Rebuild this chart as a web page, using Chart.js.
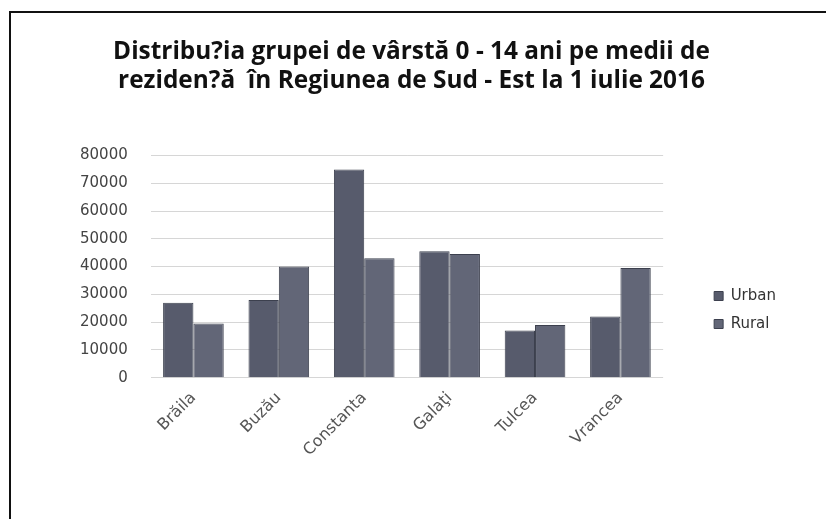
<!DOCTYPE html>
<html>
<head>
<meta charset="utf-8">
<script src="https://cdn.jsdelivr.net/npm/chart.js@4.4.1/dist/chart.umd.min.js"></script>
<style>
  html, body { margin: 0; padding: 0; background: #fff; }
  #frame {
    position: absolute; left: 9px; top: 11px; width: 817px; height: 508px;
    border-left: 2px solid #111; border-top: 2px solid #111;
  }
  #chart { position: absolute; left: 0; top: 0; }
</style>
</head>
<body>
<div id="frame"><canvas id="chart" width="815" height="506"></canvas></div>
<script>
// Distribution of 0-14 age group by residence, South-East region, 1 July 2016
const counties = ['Brăila', 'Buzău', 'Constanta', 'Galaţi', 'Tulcea', 'Vrancea'];
const urbanValues = [27000, 28000, 75000, 45500, 17000, 22000];
const ruralValues = [19500, 40000, 43000, 44500, 19000, 39500];
const yTicks = [0, 10000, 20000, 30000, 40000, 50000, 60000, 70000, 80000];

const LEGEND_GAP = 38;
const LEGEND_DROP = 69;

// leave blank room between plot and legend, and push legend down beside the bars
const legendGap = {
  id: 'legendGap',
  beforeInit(chart) {
    const legend = chart.legend;
    if (!legend) return;
    const fit = legend.fit;
    legend.fit = function () {
      fit.call(this);
      this.width += LEGEND_GAP;
    };
    const draw = legend.draw;
    legend.draw = function () {
      this.left += LEGEND_GAP;
      this.top += LEGEND_DROP;
      this.bottom += LEGEND_DROP;
      draw.call(this);
      this.left -= LEGEND_GAP;
      this.top -= LEGEND_DROP;
      this.bottom -= LEGEND_DROP;
    };
  }
};

const ctx = document.getElementById('chart');

new Chart(ctx, {
  type: 'bar',
  data: {
    labels: counties,
    datasets: [
      {
        label: 'Urban',
        data: urbanValues,
        backgroundColor: '#575b6c',
        borderColor: '#3c404e',
        borderWidth: 1,
        categoryPercentage: 0.71,
        barPercentage: 1.0
      },
      {
        label: 'Rural',
        data: ruralValues,
        backgroundColor: '#626677',
        borderColor: '#3c404e',
        borderWidth: 1,
        categoryPercentage: 0.71,
        barPercentage: 1.0
      }
    ]
  },
  options: {
    responsive: false,
    animation: false,
    layout: { padding: { left: 26, right: 40, top: 6, bottom: 56 } },
    plugins: {
      title: {
        display: true,
        text: ['Distribu?ia grupei de vârstă 0 - 14 ani pe medii de', 'reziden?ă  în Regiunea de Sud - Est la 1 iulie 2016'],
        color: '#111',
        font: { family: 'Open Sans', size: 24.4, weight: 'bold' },
        lineHeight: 1.35,
        padding: { top: 18, bottom: 60 }
      },
      legend: {
        position: 'right',
        labels: {
          color: '#333',
          font: { family: 'DejaVu Sans', size: 15 },
          boxWidth: 9,
          boxHeight: 9,
          padding: 13
        }
      }
    },
    scales: {
      x: {
        grid: { display: false },
        border: { display: false },
        ticks: {
          color: '#555',
          font: { family: 'DejaVu Sans', size: 16 },
          maxRotation: 45,
          minRotation: 45
        }
      },
      y: {
        min: 0,
        max: 80000,
        afterBuildTicks: axis => { axis.ticks = yTicks.map(v => ({ value: v })); },
        afterFit: axis => { axis.width += 20; },
        grid: { color: '#d6d6d6', drawTicks: false },
        border: { display: false },
        ticks: {
          color: '#444',
          padding: 23,
          font: { family: 'DejaVu Sans', size: 15 },
          callback: v => String(v)
        }
      }
    }
  },
  plugins: [legendGap]
});
</script>
</body>
</html>
